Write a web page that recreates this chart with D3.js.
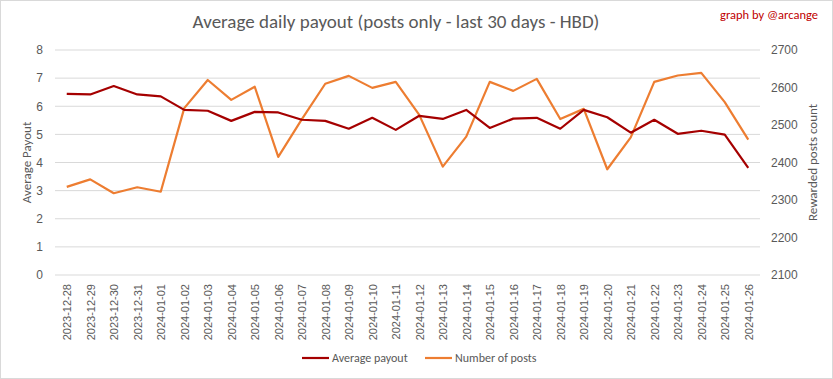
<!DOCTYPE html>
<html><head><meta charset="utf-8">
<script src="https://cdn.jsdelivr.net/npm/d3@7"></script>
<style>body{margin:0;background:#fff;}svg{display:block;font-family:Carlito,Lato,"Open Sans","Liberation Sans",sans-serif;}</style>
</head><body><div id="chart"></div>
<script>
const dates = ["2023-12-28","2023-12-29","2023-12-30","2023-12-31","2024-01-01","2024-01-02","2024-01-03","2024-01-04","2024-01-05","2024-01-06","2024-01-07","2024-01-08","2024-01-09","2024-01-10","2024-01-11","2024-01-12","2024-01-13","2024-01-14","2024-01-15","2024-01-16","2024-01-17","2024-01-18","2024-01-19","2024-01-20","2024-01-21","2024-01-22","2024-01-23","2024-01-24","2024-01-25","2024-01-26"];
const avgPayout = [6.44,6.42,6.72,6.42,6.35,5.87,5.84,5.48,5.80,5.78,5.52,5.48,5.20,5.59,5.16,5.66,5.55,5.87,5.23,5.56,5.59,5.20,5.87,5.61,5.06,5.52,5.02,5.13,4.99,3.81];
const numPosts = [2335,2355,2318,2334,2322,2545,2620,2567,2602,2415,2515,2610,2631,2599,2615,2527,2389,2469,2615,2591,2623,2516,2543,2382,2467,2615,2632,2639,2561,2461];
const leftTicks = [0,1,2,3,4,5,6,7,8];
const rightTicks = [2100,2200,2300,2400,2500,2600,2700];

const W = 833, H = 379;
const m = {l:55, r:73, t:50, b:104};
const svg = d3.select("#chart").append("svg").attr("width", W).attr("height", H);
svg.append("rect").attr("x",0.5).attr("y",0.5).attr("width",W-1).attr("height",H-1).attr("fill","#fff").attr("stroke","#d9d9d9");

const x = d3.scalePoint().domain(dates).range([m.l, W - m.r]).padding(0.5);
const yL = d3.scaleLinear().domain([0,8]).range([H - m.b, m.t]);
const yR = d3.scaleLinear().domain([2100,2700]).range([H - m.b, m.t]);

// gridlines
svg.append("g").selectAll("line").data(leftTicks).join("line")
  .attr("x1", m.l).attr("x2", W - m.r)
  .attr("y1", d => yL(d)).attr("y2", d => yL(d))
  .attr("stroke", "#d9d9d9").attr("stroke-width", 1);

// left axis
const gl = svg.append("g").attr("transform", `translate(${m.l},0)`)
  .call(d3.axisLeft(yL).tickValues(leftTicks).tickSize(0).tickPadding(12));
gl.select(".domain").remove();
gl.selectAll("text").attr("fill","#595959").style("font-size","12px");

// right axis
const gr = svg.append("g").attr("transform", `translate(${W - m.r},0)`)
  .call(d3.axisRight(yR).tickValues(rightTicks).tickFormat(d3.format("d")).tickSize(0).tickPadding(11));
gr.select(".domain").remove();
gr.selectAll("text").attr("fill","#595959").style("font-size","12px");

// x axis
const gx = svg.append("g").attr("transform", `translate(0,${H - m.b})`)
  .call(d3.axisBottom(x).tickSize(0).tickPadding(0));
gx.select(".domain").remove();
gx.selectAll("text").attr("fill","#595959").style("font-size","11px")
  .attr("text-anchor","end").attr("transform","rotate(-90)")
  .attr("dx","-9px").attr("dy","0.35em").attr("y",0).attr("x",0);

// lines
const lineL = d3.line().x((d,i) => x(dates[i])).y(d => yL(d));
const lineR = d3.line().x((d,i) => x(dates[i])).y(d => yR(d));
svg.append("path").datum(numPosts).attr("d", lineR).attr("fill","none").attr("stroke","#ed7d31").attr("stroke-width",2.2).attr("stroke-linejoin","round");
svg.append("path").datum(avgPayout).attr("d", lineL).attr("fill","none").attr("stroke","#a50000").attr("stroke-width",2.2).attr("stroke-linejoin","round");

// title
svg.append("text").attr("x", 396).attr("y", 28).attr("text-anchor","middle")
  .attr("fill","#595959").style("font-size","19px").text("Average daily payout (posts only - last 30 days - HBD)");
svg.append("text").attr("x", 818).attr("y", 19).attr("text-anchor","end")
  .attr("fill","#c00000").style("font-size","12.5px").text("graph by @arcange");

// axis titles
svg.append("text").attr("transform", `translate(31,${(yL(0)+yL(8))/2}) rotate(-90)`).attr("text-anchor","middle")
  .attr("fill","#595959").style("font-size","13px").text("Average Payout");
svg.append("text").attr("transform", `translate(817,${(yR(2100)+yR(2700))/2}) rotate(-90)`).attr("text-anchor","middle")
  .attr("fill","#595959").style("font-size","13px").text("Rewarded posts count");

// legend
const legend = [{name:"Average payout", color:"#a50000", x:302},{name:"Number of posts", color:"#ed7d31", x:425}];
const lg = svg.append("g").selectAll("g").data(legend).join("g").attr("transform", d => `translate(${d.x},358)`);
lg.append("line").attr("x1",0).attr("x2",27).attr("y1",0).attr("y2",0).attr("stroke", d => d.color).attr("stroke-width",2.2);
lg.append("text").attr("x",30).attr("y",4).attr("fill","#595959").style("font-size","12px").text(d => d.name);
</script></body></html>
